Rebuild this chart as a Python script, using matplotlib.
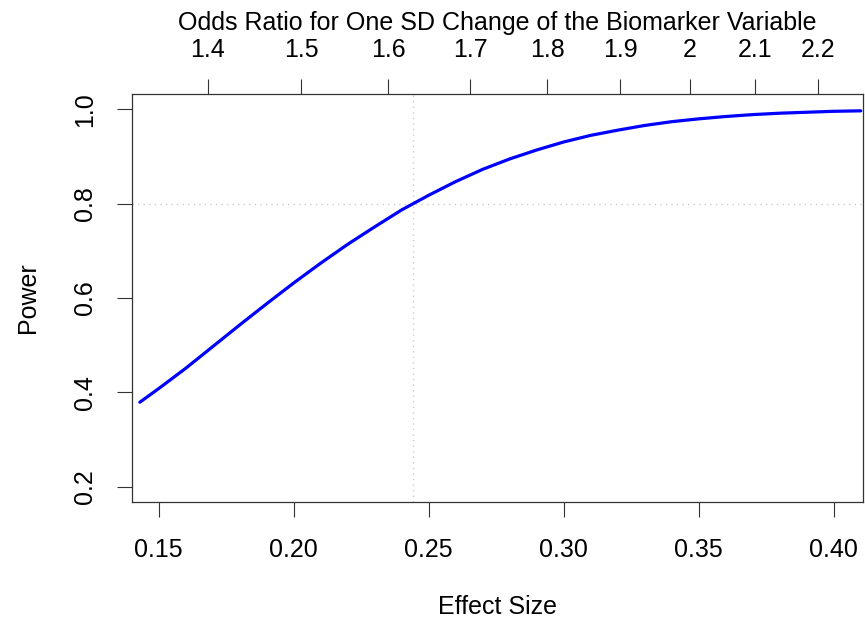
import numpy as np
import matplotlib
matplotlib.use("Agg")
import matplotlib.pyplot as plt

plt.rcParams['font.family'] = ['Liberation Sans', 'DejaVu Sans']

# power curve
effect_size = [0.143, 0.15, 0.16, 0.17, 0.18, 0.19, 0.20, 0.21, 0.22, 0.23,
               0.24, 0.25, 0.26, 0.27, 0.28, 0.29, 0.30, 0.31, 0.32, 0.33,
               0.34, 0.35, 0.36, 0.37, 0.38, 0.39, 0.40, 0.41]
power = [0.379, 0.408, 0.451, 0.497, 0.543, 0.588, 0.632, 0.674, 0.714, 0.751,
         0.787, 0.818, 0.847, 0.873, 0.895, 0.914, 0.931, 0.945, 0.956, 0.966,
         0.974, 0.980, 0.985, 0.989, 0.992, 0.994, 0.996, 0.997]

target_power = 0.8
target_effect = 0.2441

x_ticks = [0.15, 0.20, 0.25, 0.30, 0.35, 0.40]
x_labels = ["0.15", "0.20", "0.25", "0.30", "0.35", "0.40"]
y_ticks = [0.2, 0.4, 0.6, 0.8, 1.0]
y_labels = ["0.2", "0.4", "0.6", "0.8", "1.0"]
or_ticks = [1.4, 1.5, 1.6, 1.7, 1.8, 1.9, 2.0, 2.1, 2.2]
or_labels = ["1.4", "1.5", "1.6", "1.7", "1.8", "1.9", "2", "2.1", "2.2"]

fig = plt.figure(figsize=(8.65, 6.21), dpi=100)
ax = fig.add_axes([0.1523, 0.1921, 0.845, 0.656])

ax.plot(effect_size, power, color='blue', lw=2.3, solid_capstyle='round', zorder=3)
ax.axhline(target_power, color='#cccccc', lw=1, ls=(0, (1, 3)), zorder=1)
ax.axvline(target_effect, color='#cccccc', lw=1, ls=(0, (1, 3)), zorder=1)

ax.set_xlim(0.140, 0.4107)
ax.set_ylim(0.168, 1.032)

fs = 18
ax.set_xticks(x_ticks)
ax.set_xticklabels(x_labels, fontsize=fs)
ax.set_yticks(y_ticks)
ax.set_yticklabels(y_labels, fontsize=fs, rotation=90, va='center')
ax.tick_params(length=11, width=0.8, color='#333333')
ax.tick_params(axis='y', pad=14)
ax.tick_params(axis='x', pad=15)
for s in ax.spines.values():
    s.set_linewidth(0.9)
    s.set_color('#333333')

ax.set_xlabel("Effect Size", fontsize=fs, labelpad=24)
ax.set_ylabel("Power", fontsize=fs, labelpad=24)

top = ax.secondary_xaxis('top', functions=(lambda e: np.exp(2 * np.asarray(e)),
                                           lambda o: np.log(np.asarray(o)) / 2))
top.set_xticks(or_ticks)
top.set_xticklabels(or_labels, fontsize=fs)
top.tick_params(length=11, width=0.8, color='#333333', pad=12)
top.spines['top'].set_visible(False)
top.set_xlabel("Odds Ratio for One SD Change of the Biomarker Variable", fontsize=fs, labelpad=6)

fig.savefig("out.png", dpi=100)
